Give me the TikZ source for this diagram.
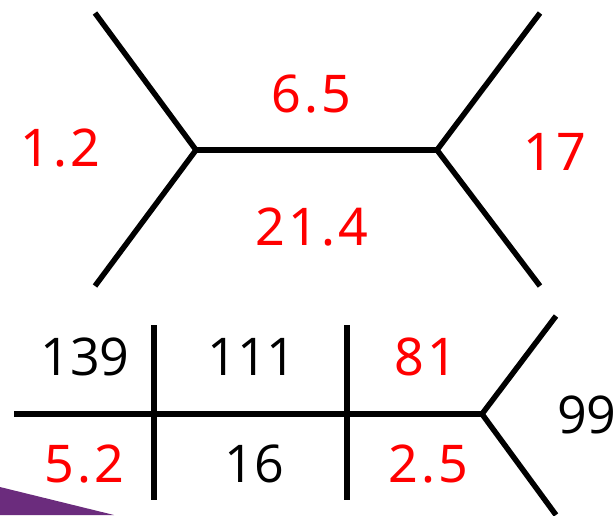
\documentclass[tikz,border=0pt]{standalone}
\usepackage{fontspec}
\newfontfamily\redfont[LetterSpace=6]{Noto Sans}
\newfontfamily\blkfont{Open Sans}
\definecolor{numred}{HTML}{FF0000}
\definecolor{purp}{HTML}{6B2C7D}
\tikzset{
  edge/.style={line width=5.5pt, line join=miter, black},
  rnum/.style={anchor=base, inner sep=0pt, text=numred, font=\redfont\fontsize{52}{60}\selectfont},
  bnum/.style={anchor=base, inner sep=0pt, text=black, font=\blkfont\fontsize{52}{60}\selectfont}
}
\begin{document}
\begin{tikzpicture}[x=1pt,y=-1pt]
\useasboundingbox (0,0) rectangle (616,515);
\clip (0,0) rectangle (616,515);
% purple corner shape
\fill[purp] (0,487) -- (114,515) -- (0,515) -- cycle;
% top tree
\coordinate (tl) at (95,13);
\coordinate (bl) at (95,286);
\coordinate (vl) at (196,150);
\coordinate (vr) at (437,150);
\coordinate (tr) at (540,13);
\coordinate (br) at (540,286);
\draw[edge] (tl) -- (vl) -- (bl);
\draw[edge] (vl) -- (vr);
\draw[edge] (tr) -- (vr) -- (br);
% bottom tree
\coordinate (hs) at (14,414);
\coordinate (v2) at (482,414);
\coordinate (t2) at (556,316);
\coordinate (b2) at (556,515);
\coordinate (a1) at (154,325);
\coordinate (a2) at (154,500);
\coordinate (c1) at (347,325);
\coordinate (c2) at (347,500);
\draw[edge] (hs) -- (v2);
\draw[edge] (t2) -- (v2) -- (b2);
\draw[edge] (a1) -- (a2);
\draw[edge] (c1) -- (c2);
% labels top
\node[rnum] (n12) at (60,166) {1.2};
\node[rnum] (n65) at (311,112) {6.5};
\node[rnum] (n214) at (312,245) {21.4};
\node[rnum] (n17) at (555,170) {17};
% labels bottom
\node[bnum] (n139) at (85,375) {139};
\node[bnum] (n111) at (252,375) {111};
\node[rnum] (n81) at (426,375) {81};
\node[rnum] (n52) at (84,482) {5.2};
\node[bnum] (n16) at (254,482) {16};
\node[rnum] (n25) at (428,482) {2.5};
\node[bnum, anchor=base west] (n99) at (557,433) {99};
\end{tikzpicture}
\end{document}
